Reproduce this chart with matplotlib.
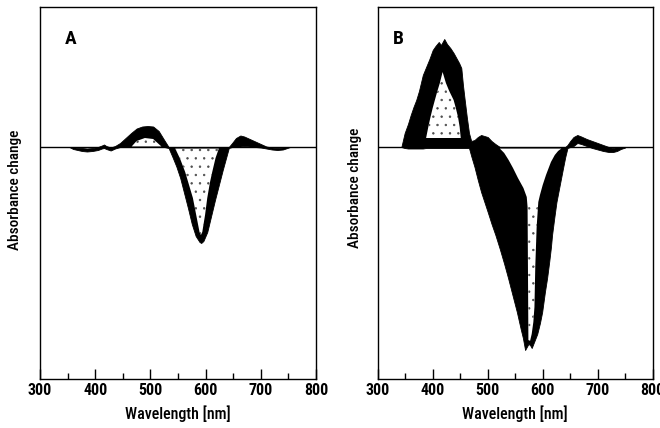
import matplotlib
matplotlib.use("Agg")
import matplotlib.pyplot as plt
from matplotlib import font_manager
from matplotlib.ticker import MultipleLocator

# values in arbitrary units (x 0.001 absorbance)

# ---- panel A: outer envelope of the spectra family ----
wl_a = [353, 360, 368, 376, 385, 395, 405, 412, 416, 420, 428, 436, 445, 455,
        465, 475, 485, 495, 505, 515, 525, 533, 540, 547, 554, 561, 568, 575,
        582, 589, 592, 596, 603, 610, 617, 624, 631, 638, 642, 648, 655, 663,
        670, 680, 690, 700, 710, 720, 730, 740, 748, 753]
hi_a = [0, 0, -1, -1, -1.5, -1, 0, 1.5, 2.5, 1, -0.5, 1, 4, 9,
        14, 18.5, 20.5, 21, 20.5, 16, 7, 0, 0, 0, 0, 0, 0, 0,
        0, 0, 0, 0, 0, 0, 0, 0, 0, 0, 0, 4, 9, 11.5,
        10.5, 8, 5.5, 3, 0.5, -0.5, -1, -0.5, 0, 0]
lo_a = [0, -2, -3, -4, -4.5, -4, -3, -1.5, -1, -2, -3.5, -1.5, 0, 0,
        0, 0, 0, 0, 0, 0, 0, -1, -10, -19.5, -31, -46, -61, -77,
        -89, -95, -96, -94, -85, -69, -53, -38, -23, -9, -1, 0, 0, 0.5,
        1, 0.5, 0, -0.5, -1.5, -2.5, -3, -2.5, -1, 0]

# sparse (dotted) interior of panel A
bump_wl_a = [466, 475, 490, 505, 515, 520]
bump_top_a = [0.5, 6, 9, 8, 3, 0.5]
bump_bot_a = [0.5, 0.5, 0.5, 0.5, 0.5, 0.5]

trough_wl_a = [545, 554, 563, 570, 577, 583, 589, 591.5, 594, 599, 603, 608, 612, 618, 624]
trough_top_a = [-1.5] * 15
trough_bot_a = [-1.5, -12, -25, -38, -51, -68, -85, -88, -85, -68, -51, -35, -25, -11, -1.5]

# ---- panel B ----
wl_b = [343, 349, 355, 360, 365, 370, 375, 382, 388, 394, 400, 405, 411, 415,
        418, 421, 426, 432, 438, 444, 448, 452, 455, 458, 462, 466, 470, 476,
        482, 488, 494, 500, 507, 514, 522, 530, 537, 545, 553, 560, 564, 568,
        571, 574, 577, 580, 585, 590, 595, 599, 604, 608, 612, 615, 617, 621,
        625, 631, 637, 641, 645, 650, 656, 663, 670, 680, 690, 700, 710, 720,
        728, 735, 742, 750]
hi_b = [0, 14, 23, 32, 40, 47, 56, 72, 80, 88, 97, 101, 105, 102,
        105, 108, 103, 99, 94, 88, 84, 79, 62, 48, 30, 14, 6, 7,
        10, 12, 11, 10, 6, 3, 0, 0, 0, 0, 0, 0, 0, 0,
        0, 0, 0, 0, 0, 0, 0, 0, 0, 0, 0, 0, 0, 0,
        0, 0, 0, 0, 2, 6, 10, 12, 10.5, 8, 6, 4, 2, 0,
        -1, 0, 0, 0]
lo_b = [0, -1, -1.5, -1.5, -1.5, -1.5, -1.5, -1.5, -1, -1, -1, -1, -1, -1,
        -1, -1, -1, -1, -1, -1, -1, -1, -1, -1, -1, -1, -9, -20,
        -33, -45, -55, -65, -77, -88, -102, -117, -131, -148, -165, -182, -191, -203,
        -200, -197, -198, -201, -194, -187, -176, -165, -145, -131, -114, -100, -88, -71,
        -55, -38, -21, -10, -1, 0, 1, 4, 3, 1, -1, -2.5, -4, -5,
        -5, -4, -2, -0.5]

peak_wl_b = [388, 392, 396, 400, 404, 408, 413, 418, 424, 430, 438, 442, 446, 449, 451]
peak_top_b = [9, 20, 30, 39, 47, 55, 64, 75, 64, 56, 47, 39, 30, 20, 9]
peak_bot_b = [9] * 15

trough_wl_b = [522, 530, 538, 546, 555, 565, 571, 572.5, 574, 577, 580, 583,
               585, 586.5, 589, 592, 595, 600, 606, 615, 622, 628, 634]
trough_top_b = [-1.5] * 23
trough_bot_b = [-1.5, -6, -13, -21, -31, -41, -50, -60, -193, -194, -187, -175,
                -160, -120, -80, -55, -48, -38, -28, -15, -8, -4, -1.5]

# dotted stripe at the bottom of the B trough
stripe_wl_b = [573.5, 574, 577, 580, 583, 585, 586.5, 589, 592]
stripe_top_b = [-55, -55, -55, -55, -55, -55, -55, -55, -55]
stripe_bot_b = [-55, -193, -194, -187, -175, -160, -120, -80, -55]

# condensed face if there is one
names = {f.name for f in font_manager.fontManager.ttflist}
fam = "DejaVu Sans"
for cand in ["Roboto Condensed", "Liberation Sans Narrow", "Open Sans Condensed", "DejaVu Sans"]:
    if cand in names:
        fam = cand
        break
plt.rcParams["font.family"] = [fam, "DejaVu Sans"]
plt.rcParams["hatch.linewidth"] = 0.5

fig = plt.figure(figsize=(6.6, 4.28), dpi=100)
ax_a = fig.add_axes([40 / 660, 49 / 428, 276 / 660, 372 / 428])
ax_b = fig.add_axes([377.7 / 660, 49 / 428, 275 / 660, 372 / 428])


def draw_panel(ax, wl, hi, lo, holes, dotted, letter, lx):
    ax.fill_between(wl, lo, hi, color="black", linewidth=0.6, edgecolor="black")
    for hw, ht, hb in holes:
        ax.fill_between(hw, hb, ht, facecolor="white", linewidth=0)
    for hw, ht, hb in dotted:
        ax.fill_between(hw, hb, ht, facecolor="none", edgecolor="0.3",
                        hatch="..", linewidth=0)
    ax.axhline(0, color="black", linewidth=1.0)
    ax.set_xlim(300, 800)
    ax.set_ylim(-232, 140)
    ax.xaxis.set_major_locator(MultipleLocator(100))
    ax.xaxis.set_minor_locator(MultipleLocator(50))
    ax.tick_params(axis="x", which="both", direction="in", top=False, width=1.0, pad=3,
                   labelsize=11.5)
    ax.tick_params(axis="x", which="major", length=7)
    ax.tick_params(axis="x", which="minor", length=4)
    ax.tick_params(axis="y", left=False, labelleft=False)
    for lab in ax.get_xticklabels():
        lab.set_fontweight("bold")
    for sp in ax.spines.values():
        sp.set_linewidth(1.0)
    ax.set_xlabel("Wavelength [nm]", fontsize=11.5, labelpad=5, fontweight="medium")
    ax.text(lx, 0.89, letter, transform=ax.transAxes, fontsize=14,
            fontweight="bold", va="bottom", ha="left")


holes_a = [(bump_wl_a, bump_top_a, bump_bot_a), (trough_wl_a, trough_top_a, trough_bot_a)]
holes_b = [(peak_wl_b, peak_top_b, peak_bot_b), (trough_wl_b, trough_top_b, trough_bot_b)]
dotted_b = [(peak_wl_b, peak_top_b, peak_bot_b), (stripe_wl_b, stripe_top_b, stripe_bot_b)]

draw_panel(ax_a, wl_a, hi_a, lo_a, holes_a, holes_a, "A", 0.09)
draw_panel(ax_b, wl_b, hi_b, lo_b, holes_b, dotted_b, "B", 0.055)

fig.text(15 / 660, 1 - 190 / 428, "Absorbance change", rotation=90,
         ha="center", va="center", fontsize=11, fontweight="medium")
fig.text(355 / 660, 1 - 188 / 428, "Absorbance change", rotation=90,
         ha="center", va="center", fontsize=11, fontweight="medium")

fig.savefig("out.png", dpi=100)
